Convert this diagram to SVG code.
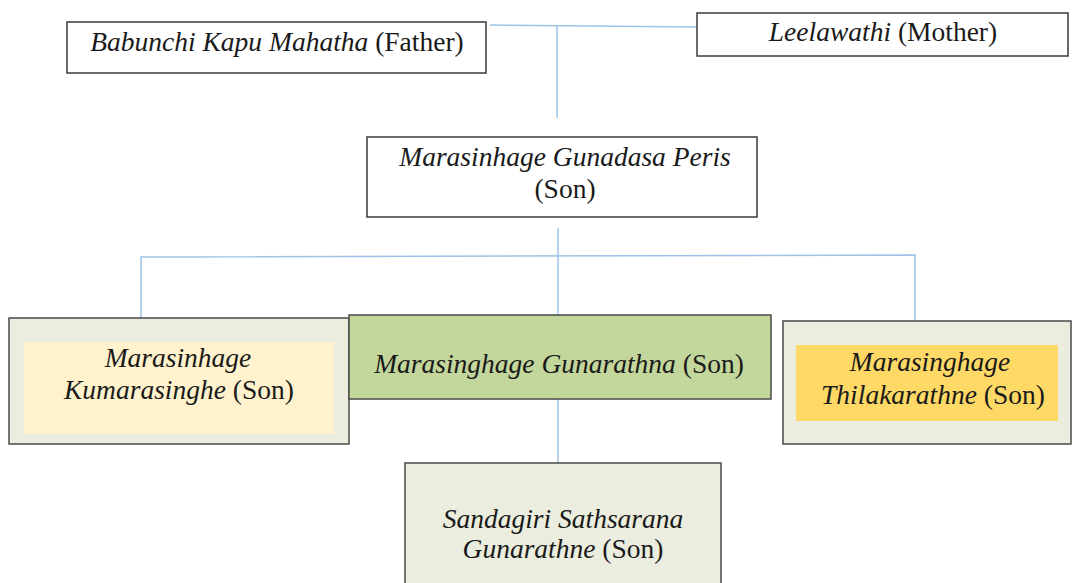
<svg xmlns="http://www.w3.org/2000/svg" width="1072" height="583" viewBox="0 0 1072 583">
<style>
.box{fill:#ffffff;stroke:#3a3a3a;stroke-width:1.5}
.outer{fill:#ebeedf;stroke:#4a4a4a;stroke-width:1.5}
.green{fill:#c3d69b;stroke:#4a4a4a;stroke-width:1.5}
.cn{fill:none;stroke:#9dc3e6;stroke-width:1.5}
text{font-family:'Liberation Serif',serif;font-size:27.5px;font-style:italic;fill:#1a1a1a;text-anchor:middle}
.n{font-style:normal}
</style>
<rect width="1072" height="583" fill="#ffffff"/>
<g id="connectors">
<path class="cn" d="M490 25 L697 27"/>
<path class="cn" d="M557 26 V118"/>
<path class="cn" d="M558 228 V315"/>
<path class="cn" d="M141 318 V257 L915 255 V320"/>
<path class="cn" d="M558 399 V463"/>
</g>
<g id="father">
<rect class="box" x="67" y="22" width="419" height="51"/>
<text x="277" y="51">Babunchi Kapu Mahatha <tspan class="n">(Father)</tspan></text>
</g>
<g id="mother">
<rect class="box" x="697" y="13" width="371" height="43"/>
<text x="883" y="41">Leelawathi <tspan class="n">(Mother)</tspan></text>
</g>
<g id="gunadasa">
<rect class="box" x="367" y="137" width="390" height="80"/>
<text x="565" y="166">Marasinhage Gunadasa Peris</text>
<text x="565" y="198" class="n">(Son)</text>
</g>
<g id="kumarasinghe">
<rect class="outer" x="9" y="318" width="340" height="126"/>
<rect x="24" y="342" width="310" height="92" fill="#fff2cc"/>
<text x="178" y="367">Marasinhage</text>
<text x="179" y="399">Kumarasinghe <tspan class="n">(Son)</tspan></text>
</g>
<g id="gunarathna">
<rect class="green" x="349" y="315" width="422" height="84"/>
<text x="559" y="373">Marasinghage Gunarathna <tspan class="n">(Son)</tspan></text>
</g>
<g id="thilakarathne">
<rect class="outer" x="783" y="321" width="288" height="123"/>
<rect x="796" y="345" width="262" height="76" fill="#ffd966"/>
<text x="930" y="371">Marasinghage</text>
<text x="933" y="404">Thilakarathne <tspan class="n">(Son)</tspan></text>
</g>
<g id="sandagiri">
<rect class="outer" x="405" y="463" width="316" height="125"/>
<text x="563" y="528">Sandagiri Sathsarana</text>
<text x="563" y="558">Gunarathne <tspan class="n">(Son)</tspan></text>
</g>
</svg>
